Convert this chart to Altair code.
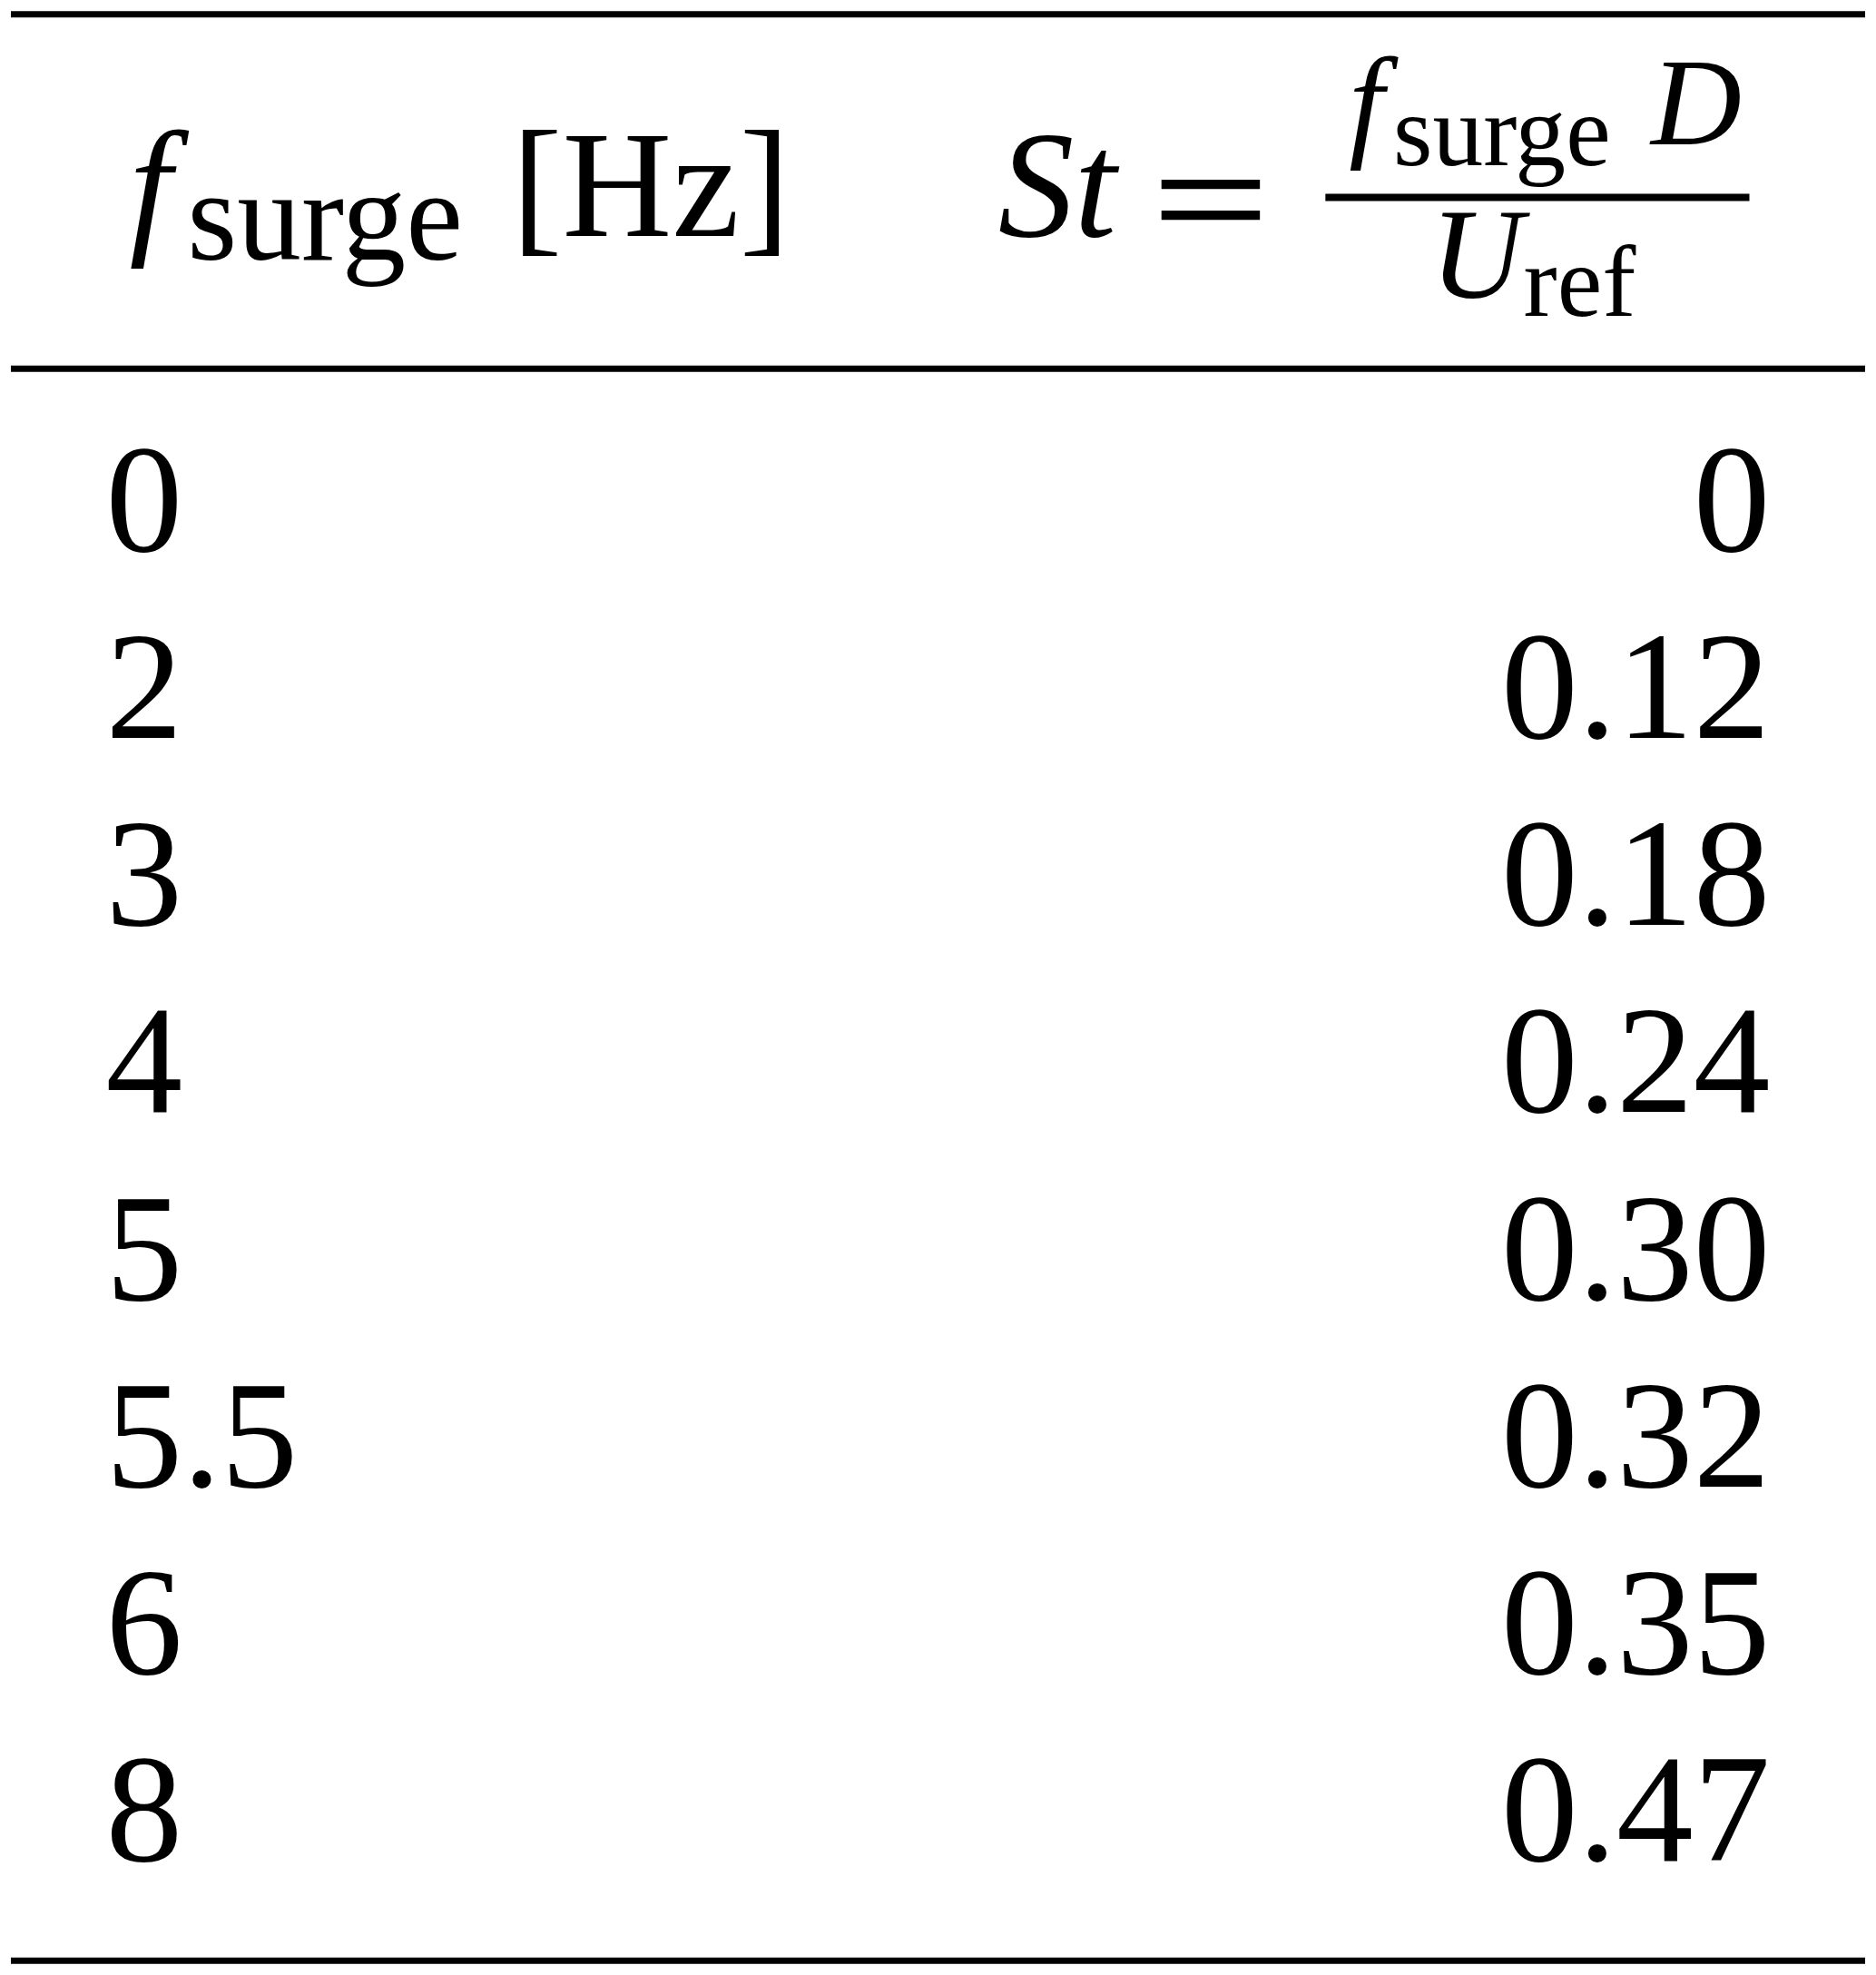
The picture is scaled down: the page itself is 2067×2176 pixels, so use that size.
import altair as alt
import pandas as pd

# table contents
f_surge = [0, 2, 3, 4, 5, 5.5, 6, 8]
strouhal = [0, 0.12, 0.18, 0.24, 0.30, 0.32, 0.35, 0.47]

# header pieces (math text split into runs)
head_left = ["f", "surge", "[Hz]"]
head_right = ["St", "＝", "f", "surge", "D", "U", "ref"]

SERIF = "Liberation Serif"
W, H = 2051, 2160


def piece(label, x, y, size, italic=False, align="left", font=SERIF):
    """one run of header text placed on the page"""
    return alt.Chart(pd.DataFrame({"label": [label]})).mark_text(
        align=align, baseline="alphabetic", font=font, fontSize=size,
        fontStyle="italic" if italic else "normal", color="black"
    ).encode(x=alt.value(x), y=alt.value(y), text="label:N")


def hrule(y, x0, x1, width):
    return alt.Chart(pd.DataFrame({"k": [0]})).mark_rule(
        color="black", strokeWidth=width
    ).encode(x=alt.value(x0), x2=alt.value(x1), y=alt.value(y))


rows = pd.DataFrame({
    "row": list(range(len(f_surge))),
    "f": [f"{v:g}" for v in f_surge],
    "st": ["0" if v == 0 else f"{v:.2f}" for v in strouhal],
})

row_y = alt.Y("row:Q", axis=None,
              scale=alt.Scale(domain=[0, 7], range=[597, 2046], nice=False,
                              zero=False))

left_col = alt.Chart(rows).mark_text(
    align="left", baseline="alphabetic", font=SERIF, fontSize=170,
    color="black"
).encode(x=alt.value(105), y=row_y, text="f:N")

right_col = alt.Chart(rows).mark_text(
    align="right", baseline="alphabetic", font=SERIF, fontSize=170,
    color="black"
).encode(x=alt.value(1946), y=row_y, text="st:N")

header = [
    # left column heading
    piece(head_left[0], 131, 249, 168, italic=True),
    piece(head_left[1], 195, 275, 142),
    piece(head_left[2], 554, 249, 168),
    # right column heading: St = f_surge D / U_ref
    piece(head_right[0], 1092, 249, 168, italic=True),
    piece(head_right[1], 1327, 266, 150, align="center",
          font="Noto Sans CJK SC"),
    piece(head_right[2], 1480, 147, 139, italic=True),
    piece(head_right[3], 1529, 170, 112),
    piece(head_right[4], 1814, 147, 139, italic=True),
    piece(head_right[5], 1570, 317, 142, italic=True),
    piece(head_right[6], 1673, 337, 112),
]

rules = [
    hrule(3.5, 0, W, 7),
    hrule(395.5, 0, W, 7),
    hrule(2156.5, 0, W, 7),
    hrule(206, 1454, 1923, 8),  # fraction bar
]

chart = alt.layer(*rules, *header, left_col, right_col).properties(
    width=W, height=H, padding=0, background="white"
).configure_view(strokeWidth=0)

chart.save("out.html", embed_options={"renderer": "svg", "actions": False})
